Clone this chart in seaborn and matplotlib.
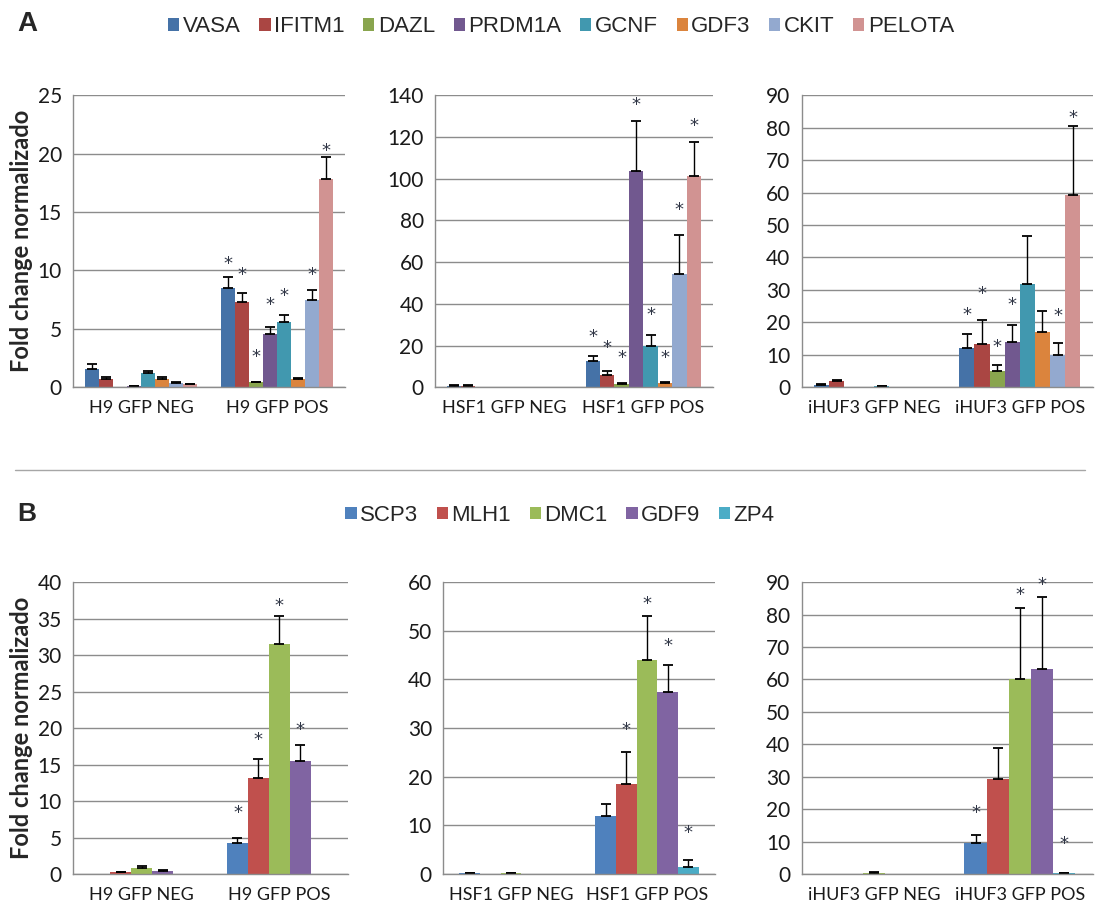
import numpy as np
import pandas as pd
import seaborn as sns
import matplotlib.pyplot as plt
from matplotlib.patches import Patch
from matplotlib.lines import Line2D

# === Data: panel A (germ cell markers) ===
genes_a = ["VASA", "IFITM1", "DAZL", "PRDM1A", "GCNF", "GDF3", "CKIT", "PELOTA"]
colors_a = ["#4572A7", "#AA4643", "#89A54E", "#71588F", "#4198AF", "#DB843D", "#93A9CF", "#D19392"]

h9_groups = ["H9 GFP NEG", "H9 GFP POS"]
hsf1_groups = ["HSF1 GFP NEG", "HSF1 GFP POS"]
ihuf3_groups = ["iHUF3 GFP NEG", "iHUF3 GFP POS"]

h9_a_neg = [1.6, 0.7, 0.0, 0.1, 1.25, 0.7, 0.35, 0.25]
h9_a_neg_err = [0.4, 0.2, 0.0, 0.02, 0.15, 0.2, 0.07, 0.05]
h9_a_pos = [8.5, 7.3, 0.45, 4.6, 5.6, 0.7, 7.5, 17.8]
h9_a_pos_err = [0.95, 0.8, 0.02, 0.6, 0.6, 0.08, 0.85, 1.9]
h9_a_star = [10.7, 9.8, 2.8, 7.2, 8.0, None, 9.8, 20.4]

hsf1_a_neg = [0.8, 0.8, 0, 0, 0, 0, 0, 0]
hsf1_a_neg_err = [0.1, 0.1, 0, 0, 0, 0, 0, 0]
hsf1_a_pos = [12.5, 6, 1.5, 103.5, 20, 2, 54.5, 101.5]
hsf1_a_pos_err = [2.5, 1.8, 0.4, 24, 5, 0.5, 18.5, 16]
hsf1_a_star = [25, 20, 15, 136.5, 35.8, 15, 86, 126]

ihuf3_a_neg = [0.8, 2.0, 0, 0, 0.4, 0, 0, 0]
ihuf3_a_neg_err = [0.1, 0.1, 0, 0, 0.1, 0, 0, 0]
ihuf3_a_pos = [12, 13.3, 5, 13.8, 31.7, 17, 10, 59.3]
ihuf3_a_pos_err = [4.5, 7.5, 1.8, 5.4, 14.8, 6.5, 3.5, 21.2]
ihuf3_a_star = [22.8, 29.3, 13, 26, None, None, 22.5, 83.6]

# === Data: panel B (meiotic / oocyte markers) ===
genes_b = ["SCP3", "MLH1", "DMC1", "GDF9", "ZP4"]
colors_b = ["#4F81BD", "#C0504D", "#9BBB59", "#8064A2", "#4BACC6"]

h9_b_neg = [0, 0.25, 0.8, 0.45, 0]
h9_b_neg_err = [0, 0.1, 0.3, 0.1, 0]
h9_b_pos = [4.3, 13.2, 31.5, 15.5, 0]
h9_b_pos_err = [0.7, 2.6, 3.9, 2.2, 0]
h9_b_star = [8.6, 18.6, 37, 20, None]

hsf1_b_neg = [0.15, 0, 0.15, 0, 0]
hsf1_b_neg_err = [0.05, 0, 0.05, 0, 0]
hsf1_b_pos = [12, 18.5, 44, 37.5, 1.5]
hsf1_b_pos_err = [2.3, 6.5, 9, 5.5, 1.4]
hsf1_b_star = [None, 30, 55.8, 47.2, 8.8]

ihuf3_b_neg = [0, 0, 0.4, 0, 0]
ihuf3_b_neg_err = [0, 0, 0.1, 0, 0]
ihuf3_b_pos = [9.5, 29.3, 60, 63.3, 0.2]
ihuf3_b_pos_err = [2.5, 9.7, 22, 22, 0.1]
ihuf3_b_star = [19.3, None, 86.6, 89.7, 9.8]

sns.set_style("white")
plt.rcParams['font.family'] = ['Lato', 'DejaVu Sans']

GRID = "#8c8c8c"


def draw_panel(ax, groups, genes, colors, neg, neg_err, pos, pos_err, stars,
               ymax, step, width, ylabel=False):
    df = pd.DataFrame({
        "group": [groups[0]] * len(genes) + [groups[1]] * len(genes),
        "gene": genes * 2,
        "value": neg + pos,
    })
    sns.barplot(data=df, x="group", y="value", hue="gene", hue_order=genes,
                order=groups, palette=colors, saturation=1, errorbar=None,
                width=width, legend=False, linewidth=0, ax=ax)

    errs = [neg_err, pos_err]
    bar_conts = list(ax.containers)  # one container per gene
    for i, cont in enumerate(bar_conts):
        for j, bar in enumerate(cont):
            xc = bar.get_x() + bar.get_width() / 2
            h = bar.get_height()
            e = errs[j][i]
            if e > 0:
                ax.errorbar(xc, h, yerr=[[0], [e]], fmt="none", ecolor="black",
                            elinewidth=1, capsize=3.5, capthick=1.3)
            if j == 1 and stars[i] is not None:
                ax.text(xc, stars[i], "*", ha="center", va="center_baseline",
                        fontsize=13, color="#2f3545", family="DejaVu Sans")

    ax.set_xlim(-0.5, 1.5)
    ax.set_ylim(0, ymax)
    ax.set_yticks(np.arange(0, ymax + step / 2, step))
    ax.yaxis.grid(True, color=GRID, lw=1)
    ax.set_axisbelow(True)
    for s in ["top", "right"]:
        ax.spines[s].set_visible(False)
    for s in ["left", "bottom"]:
        ax.spines[s].set_color(GRID)
        ax.spines[s].set_linewidth(1)
    ax.set_xticks([-0.5, 0.5, 1.5], minor=True)
    ax.tick_params(axis="x", which="major", length=0, labelsize=13, pad=9,
                   labelcolor="#1a1a1a")
    ax.tick_params(axis="x", which="minor", length=6, color=GRID, direction="out")
    ax.tick_params(axis="y", length=5, color=GRID, labelsize=15,
                   labelcolor="#1a1a1a", pad=3)
    ax.set_xlabel("")
    if ylabel:
        ax.set_ylabel("Fold change normalizado", fontsize=17, fontweight="bold",
                      labelpad=3)
    else:
        ax.set_ylabel("")


fig = plt.figure(figsize=(10.98, 9.22), dpi=100)

ax_a1 = fig.add_axes([0.0665, 0.580, 0.2477, 0.3167])
ax_a2 = fig.add_axes([0.396, 0.580, 0.2532, 0.3167])
ax_a3 = fig.add_axes([0.730, 0.580, 0.265, 0.3167])
ax_b1 = fig.add_axes([0.0665, 0.052, 0.2505, 0.3167])
ax_b2 = fig.add_axes([0.4035, 0.052, 0.2477, 0.3167])
ax_b3 = fig.add_axes([0.730, 0.052, 0.265, 0.3167])

draw_panel(ax_a1, h9_groups, genes_a, colors_a, h9_a_neg, h9_a_neg_err,
           h9_a_pos, h9_a_pos_err, h9_a_star, 25, 5, 0.83, ylabel=True)
draw_panel(ax_a2, hsf1_groups, genes_a, colors_a, hsf1_a_neg, hsf1_a_neg_err,
           hsf1_a_pos, hsf1_a_pos_err, hsf1_a_star, 140, 20, 0.83)
draw_panel(ax_a3, ihuf3_groups, genes_a, colors_a, ihuf3_a_neg, ihuf3_a_neg_err,
           ihuf3_a_pos, ihuf3_a_pos_err, ihuf3_a_star, 90, 10, 0.83)
draw_panel(ax_b1, h9_groups, genes_b, colors_b, h9_b_neg, h9_b_neg_err,
           h9_b_pos, h9_b_pos_err, h9_b_star, 40, 5, 0.76, ylabel=True)
draw_panel(ax_b2, hsf1_groups, genes_b, colors_b, hsf1_b_neg, hsf1_b_neg_err,
           hsf1_b_pos, hsf1_b_pos_err, hsf1_b_star, 60, 10, 0.76)
draw_panel(ax_b3, ihuf3_groups, genes_b, colors_b, ihuf3_b_neg, ihuf3_b_neg_err,
           ihuf3_b_pos, ihuf3_b_pos_err, ihuf3_b_star, 90, 10, 0.76)

# legends
leg_font = {"family": "Liberation Sans", "size": 16}
handles_a = [Patch(facecolor=c, edgecolor="none", label=g) for g, c in zip(genes_a, colors_a)]
handles_b = [Patch(facecolor=c, edgecolor="none", label=g) for g, c in zip(genes_b, colors_b)]
fig.legend(handles=handles_a, loc="center", bbox_to_anchor=(0.511, 0.971), ncol=8,
           frameon=False, prop=leg_font, handlelength=0.5, handleheight=0.5,
           handletextpad=0.15, columnspacing=0.85)
fig.legend(handles=handles_b, loc="center", bbox_to_anchor=(0.51, 0.441), ncol=5,
           frameon=False, prop=leg_font, handlelength=0.5, handleheight=0.5,
           handletextpad=0.15, columnspacing=0.85)

# panel letters and separator
fig.text(0.0155, 0.974, "A", fontsize=20, fontweight="bold", family="Liberation Sans",
         ha="left", va="center")
fig.text(0.0155, 0.443, "B", fontsize=19, fontweight="bold", family="Liberation Sans",
         ha="left", va="center")
fig.add_artist(Line2D([0.014, 0.988], [0.49, 0.49], color="#a6a6a6", lw=1))

fig.savefig("out.png", dpi=100)
